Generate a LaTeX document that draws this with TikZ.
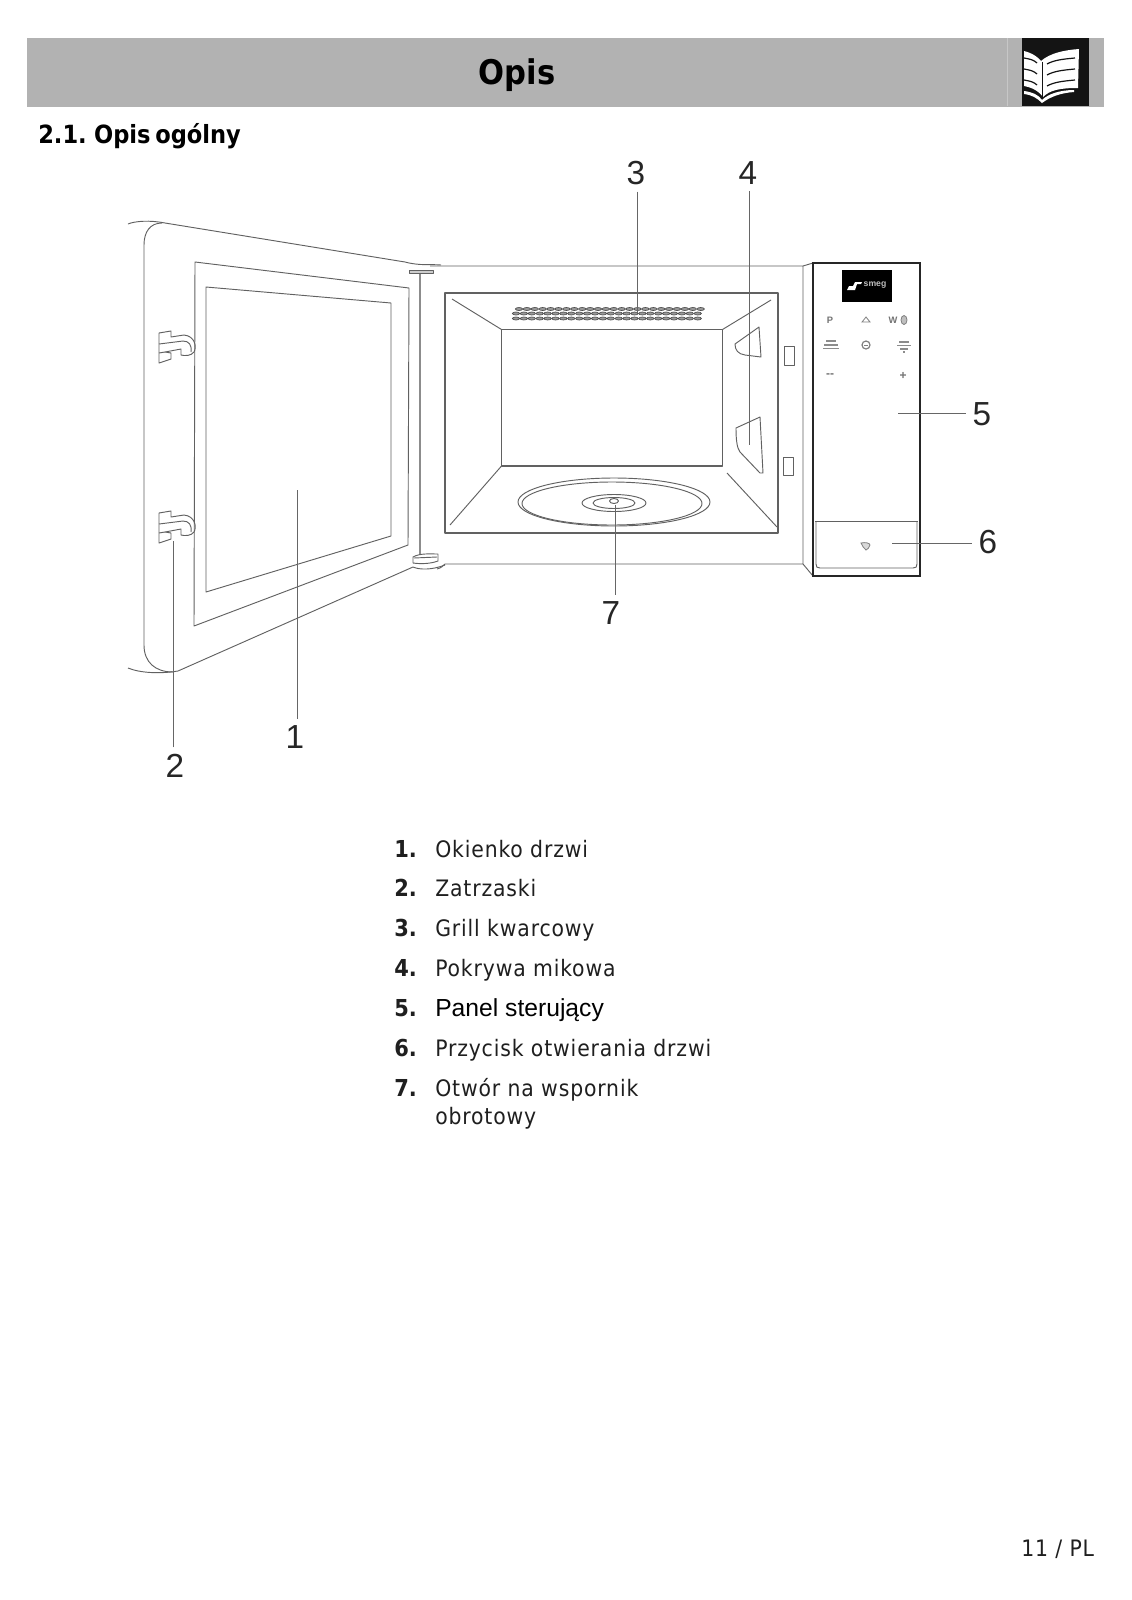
\documentclass[tikz,border=0pt]{standalone}
\usepackage{fontspec}
\setmainfont{Liberation Sans}
\newfontfamily\txtfont[LetterSpace=3.8]{DejaVu Sans Condensed}
\newfontfamily\boldfont{DejaVu Sans Condensed Bold}
\newfontfamily\secfont[WordSpace=0.6]{DejaVu Sans Condensed Bold}
\newfontfamily\numfont{Liberation Sans}
\tikzset{
 ln/.style={draw=black!62,line width=0.7pt,line join=round},
 thin ln/.style={draw=black!50,line width=0.6pt},
 lead/.style={draw=black!60,line width=0.7pt},
 callout/.style={font=\numfont\fontsize{25}{25}\selectfont,text=black!85,inner sep=5pt},
 itemnum/.style={font=\boldfont\fontsize{17.5}{17.5}\selectfont,anchor=base west,inner sep=0pt,text=black!88},
 itemtxt/.style={font=\txtfont\fontsize{17}{17}\selectfont,anchor=base west,inner sep=0pt,text=black!88},
 tiny mark/.style={font=\numfont\bfseries\fontsize{7}{7}\selectfont,text=black!55,inner sep=0pt},
}
\begin{document}
\begin{tikzpicture}[x=0.75pt,y=-0.75pt]
\useasboundingbox (0,0) rectangle (1132,1600);
\fill[white] (0,0) rectangle (1132,1600);
% header
\fill[black!30] (27,38) rectangle (1104,106.5);
\draw[black!22,line width=0.6pt] (1007,38) -- (1007,106);
\fill[black!92] (1022,38) rectangle (1089,106);
\fill[white] (1079,49) -- (1078,88) .. controls (1060,88) and (1050,90) .. (1043,97) .. controls (1038,90) and (1030,87) .. (1024,86) -- (1024,51) .. controls (1032,53) and (1038,57) .. (1041,61) .. controls (1050,53) and (1065,50) .. (1079,49) -- cycle;
\fill[white] (1024,91) .. controls (1032,92) and (1039,95) .. (1042,100) .. controls (1048,94) and (1060,90) .. (1074,90) -- (1074,92) .. controls (1060,93) and (1050,97) .. (1042,103) .. controls (1037,98) and (1032,95) .. (1024,94) -- cycle;
\foreach \y in {59,70,81}{
 \draw[black!92,line width=0.9pt] (1024,\y-1) .. controls (1030,\y) and (1034,\y+1) .. (1037,\y+4);
 \draw[black!92,line width=0.9pt] (1047,\y+5) .. controls (1054,\y+1) and (1064,\y) .. (1075,\y-1);
}
\draw[black!92,line width=1.2pt] (1042.5,62) -- (1042.5,97);
\node[font=\boldfont\fontsize{25.5}{25.5}\selectfont,anchor=base,inner sep=0pt] (title) at (517,84) {Opis};
\node[font=\secfont\fontsize{18.8}{18.8}\selectfont,anchor=base west,inner sep=0pt] (sec) at (38,143) {2.1. Opis ogólny};
% door
\draw[ln] (128,224) .. controls (135,221) and (150,220) .. (165,223) -- (405,262) .. controls (420,266) and (430,264) .. (441,265);
\draw[ln] (162,223) .. controls (150,223) and (144,232) .. (144,245) -- (144,645) .. controls (144,662) and (155,672) .. (173,672);
\draw[ln] (128,668) .. controls (140,673) and (160,674) .. (178,671) -- (413,567) .. controls (420,570) and (432,570) .. (445,565);
\draw[ln] (195,262) -- (409,288) -- (408,545) -- (194,626) -- cycle;
\draw[ln] (206,287) -- (391,303) -- (391,536) -- (206,592) -- cycle;
% hinge
\draw[draw=black!45,line width=1.2pt] (420,272) -- (420,555);
\draw[ln,fill=black!20] (409.5,270) rectangle (433,273.5);
\draw[ln] (413,557) .. controls (420,553) and (430,554) .. (438,554) -- (438,561) .. controls (430,564) and (420,564) .. (413,563) -- cycle;
\draw[ln] (414,558) -- (437,557);
% hooks
\foreach \dy in {0,180}{
\begin{scope}[shift={(159,331+\dy)}]
 \draw[ln] (0,2) -- (12,0) -- (12,6) -- (25,4) .. controls (36,5) and (38,16) .. (35,21) .. controls (32,25) and (26,25) .. (22,24) -- (22,18) -- (6,21) -- (12,22) -- (12,28) -- (0,32) -- cycle;
 \draw[ln] (0,13) -- (24,10) .. controls (30,10) and (33,14) .. (32,21);
 \draw[ln] (0,22) -- (6,21);
\end{scope}}
% cavity
\draw[ln] (430,266) -- (803,266) -- (803,564) -- (445,564) .. controls (443,566) and (441,568) .. (437,569);
\draw[ln,line width=0.85pt] (445,293) rectangle (778,533);
\draw[ln,line width=0.85pt] (501.5,329.5) rectangle (722.5,466);
\draw[ln] (452,299) -- (501.5,329.5);
\draw[ln] (771,300) -- (722.5,329.5);
\draw[ln] (501.5,466) -- (450,525);
\draw[ln] (727,473) -- (777,527);
% grill
\foreach \i in {0,...,23}{
 \draw[draw=black!70,fill=black!40,line width=0.5pt] (519+\i*7.9,309) ellipse (3.7 and 1.5);
 \draw[draw=black!70,fill=black!40,line width=0.5pt] (516+\i*7.9,313.5) ellipse (3.7 and 1.5);
 \draw[draw=black!70,fill=black!40,line width=0.5pt] (516+\i*7.9,318.5) ellipse (3.7 and 1.5);
}
% mica
\draw[ln] (735,344) -- (759,327) -- (761,357) -- (745,355) .. controls (738,354) and (735,350) .. (735,344) -- cycle;
\draw[ln] (736,428) -- (760,417) -- (763,473) -- (760,473) -- (740,452) .. controls (737,448) and (736,440) .. (736,428) -- cycle;
\draw[ln] (784,346) rectangle (794,365);
\draw[ln] (783,457) rectangle (793,475);
% turntable
\draw[ln] (614,502) ellipse (96 and 24);
\draw[ln] (612,503.5) ellipse (90 and 21.5);
\draw[ln] (614,503) ellipse (32 and 8.5);
\draw[ln] (614,503) ellipse (21 and 5.5);
\draw[ln] (614,501) ellipse (4.5 and 2.5);
% panel
\draw[ln] (803,266) -- (813,263);
\draw[ln] (803,564) -- (813,576);
\draw[draw=black!85,line width=1.8pt] (813,263) rectangle (920,576);
\draw[ln] (815,521) -- (918,521);
\draw[ln] (816,521) -- (816,564) .. controls (816,567) and (817,568) .. (820,568) -- (913,568) .. controls (916,568) and (917,567) .. (917,564) -- (917,521);
\fill[black] (842,270) rectangle (892,302);
\fill[white] (847,290) -- (849,286) -- (853,286) -- (855,282) -- (862,282) -- (861,284) -- (857,284) -- (855,290) -- cycle;
\node[font=\numfont\bfseries\fontsize{6.5}{6.5}\selectfont,text=black!25,inner sep=0pt] (logo) at (875,285) {smeg};
\node[tiny mark] (kp) at (830,320) {P};
\node[tiny mark] (kw) at (893,320) {W};
\node[font=\numfont\bfseries\fontsize{9}{9}\selectfont,text=black!55,inner sep=0pt] (kminus) at (830,376) {--};
\node[font=\numfont\bfseries\fontsize{9}{9}\selectfont,text=black!55,inner sep=0pt] (kplus) at (903,376) {+};
\draw[thin ln] (862,322) -- (866,317) -- (870,322) -- cycle;
\draw[thin ln,fill=black!25] (904,320) ellipse (3 and 4.5);
\draw[thin ln,line width=0.9pt] (866,345) circle (4);
\draw[thin ln] (864,345) -- (868,345);
\draw[draw=black!45,line width=1.2pt] (826,341) -- (836,341);
\draw[draw=black!45,line width=1.2pt] (824,345) -- (838,345);
\draw[draw=black!45,line width=1.2pt] (823,348.5) -- (839,348.5);
\draw[draw=black!45,line width=1.2pt] (899,342) -- (909,342);
\draw[draw=black!45,line width=1.2pt] (897,345.5) -- (911,345.5);
\draw[draw=black!45,line width=1.2pt] (900,349) -- (908,349);
\draw[draw=black!45,line width=1.2pt] (903,352) -- (905,352);
\draw[thin ln,fill=black!15] (861,543) .. controls (865,542) and (870,543) .. (870,545) .. controls (870,548) and (867,549) .. (866,550) .. controls (864,548) and (862,546) .. (861,543) -- cycle;
% callout leaders
\coordinate (t3) at (637,313); \coordinate (t4) at (749,445); \coordinate (t5) at (898,413);
\coordinate (t6) at (892,543); \coordinate (t7) at (615,505); \coordinate (t1) at (297,490); \coordinate (t2) at (173.5,541);
\node[callout] (c3) at (636,173) {3};
\node[callout] (c4) at (748,173) {4};
\node[callout] (c5) at (982,414) {5};
\node[callout] (c6) at (988,542) {6};
\node[callout] (c7) at (611,613) {7};
\node[callout] (c1) at (295,737) {1};
\node[callout] (c2) at (175,766) {2};
\draw[lead] (c3.south -| t3) -- (t3);
\draw[lead] (c4.south -| t4) -- (t4);
\draw[lead] (c5.west |- t5) -- (t5);
\draw[lead] (c6.west |- t6) -- (t6);
\draw[lead] (c7.north -| t7) -- (t7);
\draw[lead] (c1.north -| t1) -- (t1);
\draw[lead] (c2.north -| t2) -- (t2);
% list
\node[itemnum] (n1) at (394,857) {1.}; \node[itemtxt] (l1) at (435,857) {Okienko drzwi};
\node[itemnum] (n2) at (394,896) {2.}; \node[itemtxt] (l2) at (435,896) {Zatrzaski};
\node[itemnum] (n3) at (394,936) {3.}; \node[itemtxt] (l3) at (435,936) {Grill kwarcowy};
\node[itemnum] (n4) at (394,976) {4.}; \node[itemtxt] (l4) at (435,976) {Pokrywa mikowa};
\node[itemnum] (n5) at (394,1016) {5.}; \node[font=\numfont\fontsize{18.5}{18.5}\selectfont,anchor=base west,inner sep=0pt] (l5) at (435,1016) {Panel sterujący};
\node[itemnum] (n6) at (394,1056) {6.}; \node[itemtxt] (l6) at (435,1056) {Przycisk otwierania drzwi};
\node[itemnum] (n7) at (394,1096) {7.}; \node[itemtxt] (l7) at (435,1096) {Otwór na wspornik};
\node[itemtxt] (l7b) at (435,1124) {obrotowy};
\node[itemtxt] (pg) at (1021,1556) {11 / PL};
\end{tikzpicture}
\end{document}
